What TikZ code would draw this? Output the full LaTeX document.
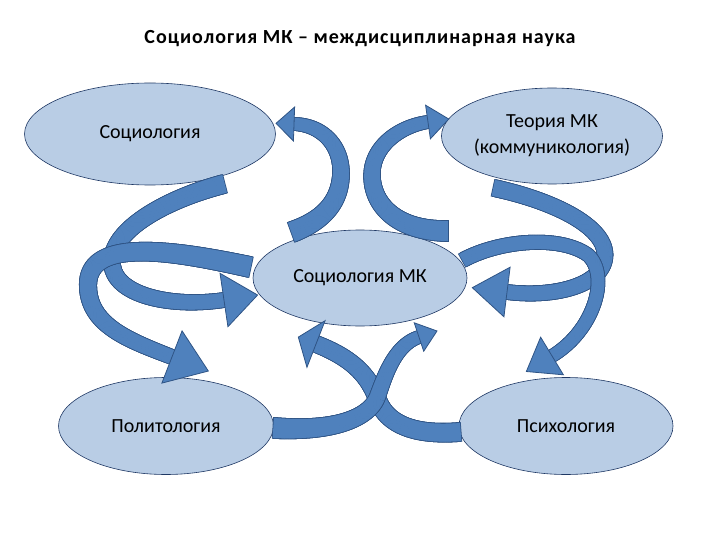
\documentclass[tikz,border=0pt]{standalone}
\usepackage{fontspec}
\setmainfont{Carlito}
\usetikzlibrary{shapes.geometric,decorations.markings}
\definecolor{ellfill}{HTML}{B9CDE5}
\definecolor{ellline}{HTML}{1F3864}
\definecolor{arrowfill}{HTML}{4F81BD}
\definecolor{arrowline}{HTML}{2F5485}
\tikzset{
  bandlayer/.style n args={4}{decorate, decoration={markings,
    mark=between positions 0 and 1 step 0.8pt with {%
      \pgfmathsetmacro\bandr{#1+(#2-#1)*(\pgfkeysvalueof{/pgf/decoration/mark info/distance from start})/(\pgfdecoratedpathlength)+#3}%
      \pgfmathsetmacro\bandd{0.7+#3}%
      \fill[#4] (-\bandd pt,-\bandr pt) rectangle (\bandd pt,\bandr pt);}}},
  headmark/.style n args={2}{decorate, decoration={markings,
    mark=at position 0.9999 with {%
      \filldraw[fill=arrowfill, draw=arrowline, line width=0.8pt, line join=miter]
        (0pt,#1pt) -- (#2pt,0pt) -- (0pt,-#1pt) -- cycle;}}},
  ell/.style={ellipse, fill=ellfill, draw=ellline, line width=0.6pt, inner sep=0pt,
    font=\fontsize{20}{26}\selectfont, align=center}
}
\newcommand\blockarrow[5]{%
  \path[bandlayer={#2}{#3}{0.8}{arrowline}] #1;
  \path[bandlayer={#2}{#3}{0}{arrowfill}] #1;
  \path[headmark={#4}{#5}] #1;
}
\begin{document}
\begin{tikzpicture}[x=1pt,y=-1pt]
\useasboundingbox (0,0) rectangle (720,540);
\node[font=\bfseries\fontsize{20}{24}\selectfont\addfontfeature{LetterSpace=5}, anchor=base] (title) at (360,44) {Социология МК – междисциплинарная наука};
\node[ell, minimum width=251pt, minimum height=102pt] (soc) at (150,134) {Социология};
\node[ell, minimum width=214pt, minimum height=96pt] (teor) at (552,136) {Теория МК\\(коммуникология)};
\node[ell, minimum width=214pt, minimum height=96pt] (mk) at (360,278) {Социология МК};
\node[ell, minimum width=215pt, minimum height=97pt] (pol) at (166,426) {Политология};
\node[ell, minimum width=214pt, minimum height=97pt] (psy) at (566,426) {Психология};
% arrow ends
\coordinate (As) at (292,232); \coordinate (Ae) at (294,124);
\coordinate (Bs) at (447,231); \coordinate (Be) at (428,122);
\coordinate (Cs) at (224,184); \coordinate (Ce) at (224,300);
\coordinate (Ds) at (250,267); \coordinate (De) at (172,357);
\coordinate (Es) at (494,188); \coordinate (Ee) at (507,292);
\coordinate (Fs) at (463,260); \coordinate (Fe) at (552,356);
\coordinate (Gs) at (274,428); \coordinate (Ge) at (419,337);
\coordinate (Hs) at (460,432); \coordinate (He) at (316,344);
% Социология -> Социология МК
\blockarrow{(Cs) .. controls (170,198) and (112,228) .. (112,262) .. controls (112,295) and (170,308) .. (Ce)}{9}{7}{27}{34}
% Социология МК -> Политология
\blockarrow{(Ds) .. controls (180,252) and (88,235) .. (88,285) .. controls (88,325) and (128,340) .. (De)}{10}{7}{28}{39}
% Социология МК -> Социология
\blockarrow{(As) .. controls (325,220) and (341,200) .. (341,172) .. controls (341,145) and (322,125) .. (Ae)}{10}{6}{17}{18}
% Социология МК -> Теория МК
\blockarrow{(Bs) .. controls (397,231) and (372,205) .. (372,175) .. controls (372,146) and (400,126) .. (Be)}{10}{6}{17}{21}
% Теория МК -> Социология МК
\blockarrow{(Es) .. controls (550,200) and (605,225) .. (605,255) .. controls (605,285) and (555,298) .. (Ee)}{8}{7}{25}{35}
% Социология МК -> Психология
\blockarrow{(Fs) .. controls (500,240) and (560,235) .. (588,255) .. controls (610,275) and (595,330) .. (Fe)}{7}{6}{22}{30}
% Психология -> Социология МК
\blockarrow{(Hs) .. controls (410,436) and (385,422) .. (377,398) .. controls (368,375) and (352,358) .. (He)}{9}{8}{25}{19}
% Политология -> Социология МК
\blockarrow{(Gs) .. controls (335,432) and (368,418) .. (377,398) .. controls (385,375) and (395,345) .. (Ge)}{10}{6}{15}{19}
\end{tikzpicture}
\end{document}
